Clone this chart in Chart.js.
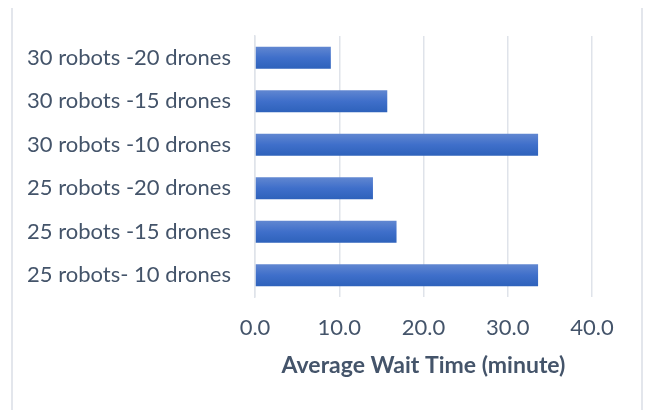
<!DOCTYPE html>
<html>
<head>
<meta charset="utf-8">
<script src="https://cdn.jsdelivr.net/npm/chart.js@4/dist/chart.umd.min.js"></script>
<style>
  body { margin: 0; background: #fff; }
  #frame { position: absolute; left: 11px; top: 8px; width: 628px; height: 402px;
           border-left: 2px solid #e3e6ec; border-right: 2px solid #e3e6ec; }
  #wrap { position: absolute; left: 0; top: 0; width: 645px; height: 410px; }
</style>
</head>
<body>
<div id="frame"></div>
<div id="wrap"><canvas id="wait" width="645" height="410"></canvas></div>
<script>
var labels = ['30 robots -20 drones', '30 robots -15 drones', '30 robots -10 drones',
              '25 robots -20 drones', '25 robots -15 drones', '25 robots- 10 drones'];
var waitTimes = [9.0, 15.7, 33.6, 14.0, 16.8, 33.6];
var xMin = 0, xMax = 40, xStep = 10;

var textColor = '#44546a';
var fontName = 'Lato';

function barFill(c) {
  var chart = c.chart;
  var ys = chart.scales.y;
  if (!ys || c.dataIndex === undefined) return '#4472c4';
  var yc = ys.getPixelForValue(c.dataIndex);
  if (!isFinite(yc)) return '#4472c4';
  var g = chart.ctx.createLinearGradient(0, yc - 11, 0, yc + 11);
  g.addColorStop(0, '#6187d1');
  g.addColorStop(0.5, '#3f6fca');
  g.addColorStop(1, '#2e62bb');
  return g;
}

var ctx = document.getElementById('wait').getContext('2d');
var waitChart = new Chart(ctx, {
  type: 'bar',
  data: {
    labels: labels,
    datasets: [{
      data: waitTimes,
      backgroundColor: barFill,
      borderWidth: 0,
      categoryPercentage: 1,
      barPercentage: 0.506
    }]
  },
  options: {
    indexAxis: 'y',
    responsive: false,
    maintainAspectRatio: false,
    animation: false,
    layout: { padding: { left: 0, right: 53, top: 36, bottom: 31 } },
    plugins: { legend: { display: false }, tooltip: { enabled: false } },
    scales: {
      x: {
        min: xMin,
        max: xMax,
        afterFit: function (s) { s.height = 82; },
        grid: { color: '#dfe3ea', lineWidth: 1.5, drawTicks: false },
        border: { display: false },
        ticks: {
          stepSize: xStep,
          color: textColor,
          padding: 18,
          font: { family: fontName, size: 22 },
          callback: function (v) { return Number(v).toFixed(1); }
        },
        title: {
          display: true,
          text: 'Average Wait Time (minute)',
          color: textColor,
          padding: { top: 10, bottom: 0 },
          font: { family: fontName, size: 23, weight: 'bold' }
        }
      },
      y: {
        afterFit: function (s) { s.width = 255; },
        grid: { display: false },
        border: { display: true, color: '#dfe3ea', width: 1.5 },
        ticks: {
          color: textColor,
          padding: 16,
          font: { family: fontName, size: 22 }
        }
      }
    }
  }
});
</script>
</body>
</html>
